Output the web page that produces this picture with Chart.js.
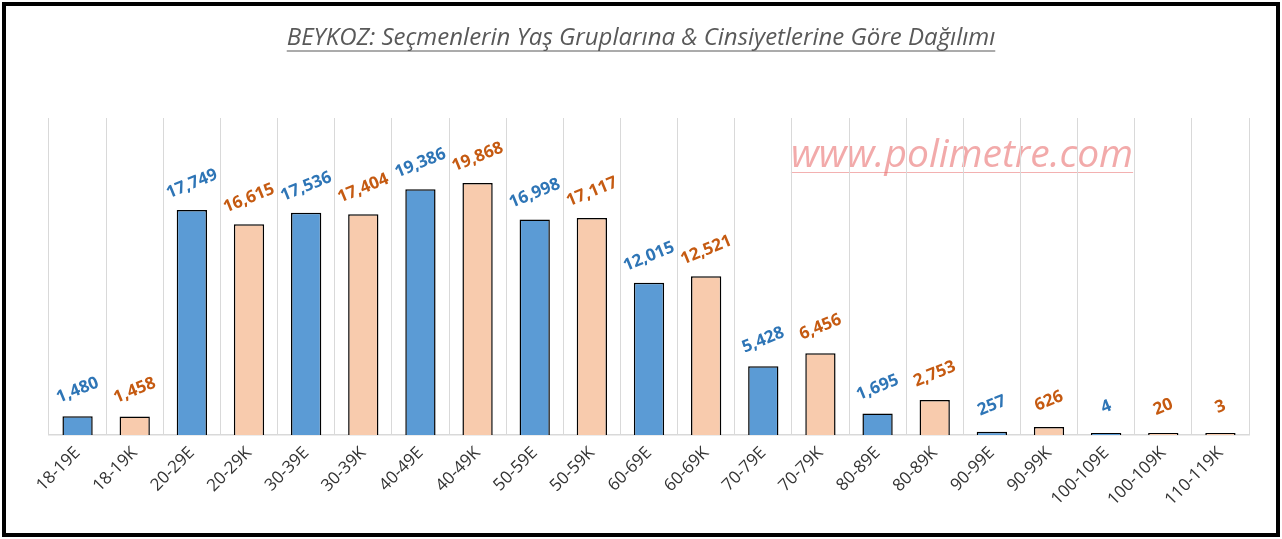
<!DOCTYPE html>
<html>
<head>
<meta charset="utf-8">
<script src="https://cdn.jsdelivr.net/npm/chart.js@4"></script>
<style>
  html, body { margin: 0; padding: 0; background: #fff; }
  #wrap { width: 1282px; height: 539px; position: relative; }
</style>
</head>
<body>
<div id="wrap"><canvas id="myChart" width="1282" height="539"></canvas></div>
<script>
const categories = ["18-19E", "18-19K", "20-29E", "20-29K", "30-39E", "30-39K", "40-49E", "40-49K",
  "50-59E", "50-59K", "60-69E", "60-69K", "70-79E", "70-79K", "80-89E", "80-89K",
  "90-99E", "90-99K", "100-109E", "100-109K", "110-119K"];
const voters = [1480, 1458, 17749, 16615, 17536, 17404, 19386, 19868,
  16998, 17117, 12015, 12521, 5428, 6456, 1695, 2753,
  257, 626, 4, 20, 3];
const titleText = "BEYKOZ: Seçmenlerin Yaş Gruplarına & Cinsiyetlerine Göre Dağılımı";
const watermark = "www.polimetre.com";

const isMale = (c) => c.endsWith("E");
const barColors = categories.map((c) => (isMale(c) ? "#5B9BD5" : "#F8CBAD"));
const labelColors = categories.map((c) => (isMale(c) ? "#2E75B6" : "#C55A11"));

const decor = {
  id: "decor",
  beforeDraw(chart) {
    const c = chart.ctx;
    c.save();
    c.fillStyle = "#fff";
    c.fillRect(0, 0, chart.width, chart.height);
    // watermark
    c.font = "italic 39px 'Open Sans'";
    c.fillStyle = "rgba(232, 100, 100, 0.55)";
    c.textAlign = "center";
    c.textBaseline = "alphabetic";
    c.fillText(watermark, 962, 167);
    const w = c.measureText(watermark).width;
    c.strokeStyle = "rgba(232, 100, 100, 0.5)";
    c.lineWidth = 1;
    c.beginPath();
    c.moveTo(962 - w / 2, 172.5);
    c.lineTo(962 + w / 2, 172.5);
    c.stroke();
    c.restore();
  },
  afterDraw(chart) {
    const c = chart.ctx;
    c.save();
    // title
    c.font = "italic 24px 'Open Sans'";
    c.fillStyle = "#595959";
    c.textAlign = "center";
    c.textBaseline = "alphabetic";
    c.fillText(titleText, 641, 45);
    const tw = c.measureText(titleText).width;
    c.strokeStyle = "#595959";
    c.lineWidth = 1.2;
    c.beginPath();
    c.moveTo(641 - tw / 2, 51);
    c.lineTo(641 + tw / 2, 51);
    c.stroke();
    // value labels
    const meta = chart.getDatasetMeta(0);
    c.font = "bold 17px 'Open Sans'";
    c.textAlign = "center";
    c.textBaseline = "middle";
    meta.data.forEach((bar, i) => {
      c.save();
      c.translate(bar.x, bar.y - 26);
      c.rotate(-22 * Math.PI / 180);
      c.fillStyle = labelColors[i];
      c.fillText(voters[i].toLocaleString("en-US"), 0, 0);
      c.restore();
    });
    // frame
    c.strokeStyle = "#000";
    c.lineWidth = 4;
    c.strokeRect(4, 4, chart.width - 8, chart.height - 8);
    c.restore();
  },
};

const ctx = document.getElementById("myChart").getContext("2d");
const myChart = new Chart(ctx, {
  type: "bar",
  data: {
    labels: categories,
    datasets: [
      {
        data: voters,
        backgroundColor: barColors,
        borderColor: "#000",
        borderWidth: 1.5,
        barPercentage: 0.53,
        categoryPercentage: 1,
        minBarLength: 2,
      },
    ],
  },
  options: {
    responsive: false,
    animation: false,
    layout: { padding: { left: 49, right: 33, top: 118, bottom: 12 } },
    plugins: { legend: { display: false }, tooltip: { enabled: false } },
    scales: {
      x: {
        grid: { color: "#d9d9d9", drawTicks: false, offset: true },
        border: { color: "#d9d9d9", width: 1.5 },
        ticks: {
          color: "#333333",
          font: { family: "'Open Sans'", size: 17 },
          minRotation: 45,
          maxRotation: 45,
          padding: 8,
        },
        afterFit(scale) { scale.height = 92; },
      },
      y: {
        display: false,
        min: 0,
        max: 25000,
      },
    },
  },
  plugins: [decor],
});
</script>
</body>
</html>
